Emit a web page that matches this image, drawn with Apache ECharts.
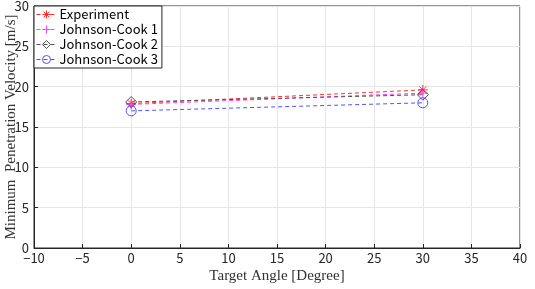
<!DOCTYPE html>
<html>
<head>
<meta charset="utf-8">
<script src="https://cdn.jsdelivr.net/npm/echarts@6/dist/echarts.min.js"></script>
<style>
html,body{margin:0;padding:0;background:#fff;}
#main{width:535px;height:289px;}
</style>
</head>
<body>
<div id="main"></div>
<script>
// data
var angles = [0, 30];
var experiment = [17.9, 19.6];
var johnsonCook1 = [17.8, 19.2];
var johnsonCook2 = [18.1, 19.0];
var johnsonCook3 = [17.0, 18.0];
var seriesNames = ['Experiment', 'Johnson-Cook 1', 'Johnson-Cook 2', 'Johnson-Cook 3'];

var starPath = 'path://M0,-10L0,10M-10,0L10,0M-7,-7L7,7M-7,7L7,-7';
var plusPath = 'path://M0,-10L0,10M-10,0L10,0';

function pairs(vals){
	var arr = new Array();
	for(var i=0;i<angles.length;i++){
		arr.push([angles[i], vals[i]]);
	}
	return arr;
}

function makeSeries(name, vals, color, symbol, size){
	return {
		name: name,
		type: 'line',
		data: pairs(vals),
		symbol: symbol,
		symbolSize: size,
		lineStyle: {color: color, width: 1, type: [4, 3]},
		itemStyle: {color: 'rgba(255,255,255,0)', borderColor: color, borderWidth: 1},
		emphasis: {disabled: true}
	};
}

// matlab style minus sign
function minusFmt(v){
	return String(v).replace('-', '\u2212');
}

var chart = echarts.init(document.getElementById('main'));
var tickFont = {color: '#262626', fontSize: 13, fontFamily: 'Noto Sans CJK JP, sans-serif'};

var option = {
	animation: false,
	grid: {
		left: 34, right: 15, top: 6, bottom: 41,
		outerBoundsMode: 'none',
		show: true, borderColor: '#262626', borderWidth: 1
	},
	legend: {
		data: seriesNames,
		orient: 'vertical',
		left: 34, top: 6,
		itemWidth: 20, itemHeight: 10, itemGap: 2,
		padding: [2, 4, 2, 2],
		backgroundColor: '#fff',
		borderColor: '#262626', borderWidth: 1,
		itemStyle: {color: 'rgba(255,255,255,0)', borderWidth: 1},
		lineStyle: {width: 1},
		textStyle: {color: '#000', fontSize: 13, padding: [0, 0, 0, -2], fontFamily: 'Noto Sans CJK JP, sans-serif'}
	},
	xAxis: {
		type: 'value',
		min: -10, max: 40, interval: 5,
		name: 'Target Angle [Degree]',
		nameLocation: 'middle', nameGap: 21,
		nameMoveOverlap: false,
		nameTextStyle: {color: '#333', fontSize: 15, fontFamily: 'Liberation Serif, serif'},
		axisLine: {lineStyle: {color: '#262626'}},
		axisTick: {inside: true, length: 4, lineStyle: {color: '#262626'}},
		axisLabel: Object.assign({margin: 4, formatter: minusFmt}, tickFont),
		splitLine: {lineStyle: {color: '#e6e6e6'}}
	},
	yAxis: {
		type: 'value',
		min: 0, max: 30, interval: 5,
		name: 'Minimum  Penetration Velocity [m/s]',
		nameLocation: 'middle', nameGap: 15,
		nameMoveOverlap: false,
		nameTextStyle: {color: '#333', fontSize: 15, fontFamily: 'Liberation Serif, serif'},
		axisLine: {show: true, onZero: false, lineStyle: {color: '#262626'}},
		axisTick: {show: true, inside: true, length: 4, lineStyle: {color: '#262626'}},
		axisLabel: Object.assign({margin: 5}, tickFont),
		splitLine: {lineStyle: {color: '#e6e6e6'}}
	},
	series: [
		makeSeries(seriesNames[0], experiment, '#ff3030', starPath, 10),
		makeSeries(seriesNames[1], johnsonCook1, '#ff40ff', plusPath, 10),
		makeSeries(seriesNames[2], johnsonCook2, '#505050', 'diamond', 11),
		makeSeries(seriesNames[3], johnsonCook3, '#5050ff', 'circle', 10)
	]
};

chart.setOption(option);
</script>
</body>
</html>
